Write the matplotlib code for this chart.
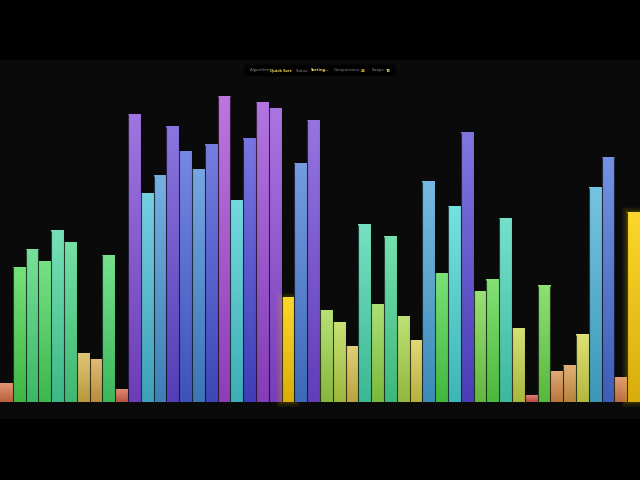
import colorsys
import matplotlib
matplotlib.use("Agg")
import matplotlib.pyplot as plt
import numpy as np
from matplotlib.patches import FancyBboxPatch, Rectangle

values = [3, 22, 25, 23, 28, 26, 8, 7, 24, 2,
          47, 34, 37, 45, 41, 38, 42, 50, 33, 43,
          49, 48, 17, 39, 46, 15, 13, 9, 29, 16,
          27, 14, 10, 36, 21, 32, 44, 18, 20, 30,
          12, 1, 19, 5, 6, 11, 35, 40, 4, 31]
active = [22, 49]
status_labels = ["Algorithm:", "Status:", "Comparisons:", "Swaps:"]
status_values = ["Quick Sort", "Sorting...", "23", "18"]


def hsl(h, s, l):
    return colorsys.hls_to_rgb(h / 360, l, s)


def gradient(top, bottom):
    t = np.linspace(0, 1, 64)[:, None, None]
    return np.array(top)[None, None, :] * (1 - t) + np.array(bottom)[None, None, :] * t


fig = plt.figure(figsize=(6.4, 4.8), dpi=100, facecolor="black")
fig.patches.append(Rectangle((0, 62 / 480), 1, 358 / 480, transform=fig.transFigure,
                             color="#0a0a0a", zorder=-5))

ax = fig.add_axes([0, 78 / 480, 1, 342 / 480])
ax.patch.set_alpha(0)
ax.axis("off")

# bars go in list order, so a glow lands on the bar before it but not the one after
for i, v in enumerate(values):
    z = 2 + i * 0.01
    if i in active:
        for k in range(1, 11):
            grow = 0.42 * (k / 10) ** 1.5
            ax.add_patch(Rectangle((i - grow, -grow * 2.09), 1 + 2 * grow, v + 4.18 * grow,
                                   color="#ffd700", alpha=0.028, lw=0, zorder=z, clip_on=False))
        top, bottom = (0.99, 0.84, 0.17), (0.85, 0.68, 0.04)
    else:
        hue = v * 5.6
        top, bottom = hsl(hue, 0.64, 0.67), hsl(hue, 0.50, 0.48)
    ax.imshow(gradient(top, bottom), extent=[i, i + 1, 0, v], aspect="auto",
              interpolation="bilinear", zorder=z + 0.001)

# thin dark gap between neighbouring bars
for i in range(1, len(values)):
    ax.vlines(i, 0, max(values[i - 1], values[i]), color="#0a0a0a", alpha=0.75, lw=0.8, zorder=4)

ax.set_xlim(0, len(values))
ax.set_ylim(0, 342 / 6.12)

# status pill
fig.patches.append(FancyBboxPatch((246 / 640, 1 - 75 / 480), 148 / 640, 9 / 480,
                                  boxstyle="round,pad=0.003,rounding_size=0.008",
                                  transform=fig.transFigure, fc="#020202", ec="none", zorder=5))
label_x = [250, 296, 334, 372]
value_x = [270.5, 311, 361, 386]
for x, s in zip(label_x, status_labels):
    fig.text(x / 640, 1 - 70.5 / 480, s, color="#909090", fontsize=3.0, va="center",
             family="Open Sans", zorder=6)
for x, s in zip(value_x, status_values):
    fig.text(x / 640, 1 - 70.5 / 480, s, color="#ffe45c", fontsize=3.0, va="center",
             family="Open Sans", fontweight="bold", zorder=6)

fig.savefig("out.png", dpi=100, facecolor=fig.get_facecolor())
